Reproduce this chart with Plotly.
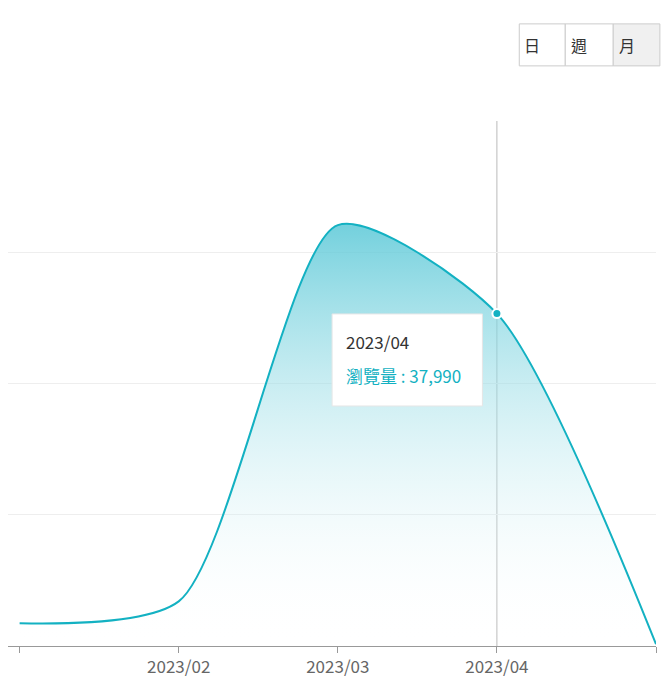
import plotly.graph_objects as go

months = ["2023/01", "2023/02", "2023/03", "2023/04", "2023/05"]
views = [2600, 5100, 48100, 37990, 200]
xi = list(range(len(months)))

teal = "#13b1c2"
fig = go.Figure()
fig.add_trace(go.Scatter(
    x=xi, y=views, mode="lines", line=dict(color=teal, width=2, shape="spline", smoothing=0.7),
    fill="tozeroy",
    fillgradient=dict(type="vertical", colorscale=[[0, "rgba(255,255,255,0)"], [1, "rgba(90,200,215,0.85)"]]),
    hoverinfo="skip", cliponaxis=True))
fig.add_trace(go.Scatter(x=[xi[3]], y=[views[3]], mode="markers",
                         marker=dict(color=teal, size=9, line=dict(color="white", width=2)), hoverinfo="skip"))

shapes = [
    dict(type="line", x0=3, x1=3, y0=0, y1=60000, xref="x", yref="y", line=dict(color="#bbbbbb", width=1), layer="below"),
    dict(type="rect", x0=1.964, x1=2.909, y0=27430, y1=37950, xref="x", yref="y",
         fillcolor="white", line=dict(color="#e6e6e6", width=1)),
]
bx = [0.789, 0.860, 0.934, 1.006]
for i in range(3):
    shapes.append(dict(type="rect", xref="paper", yref="paper", x0=bx[i], x1=bx[i+1], y0=1.105, y1=1.185,
                       fillcolor="#f0f0f0" if i == 2 else "white", line=dict(color="#cccccc", width=1)))
anns = []
for i, t in enumerate(["日", "週", "月"]):
    anns.append(dict(x=(bx[i]+bx[i+1])/2, y=1.145, xref="paper", yref="paper", text=t, showarrow=False,
                     yanchor="middle", font=dict(size=16, color="#333333", family="Noto Sans CJK TC")))
anns.append(dict(x=2.042, y=34750, xref="x", yref="y", text="2023/04", showarrow=False, xanchor="left",
                 font=dict(size=17, color="#333333", family="Noto Sans CJK TC")))
anns.append(dict(x=2.042, y=30860, xref="x", yref="y", text="瀏覽量 : 37,990", showarrow=False, xanchor="left",
                 font=dict(size=17, color=teal, family="Noto Sans CJK TC")))

fig.update_layout(
    width=670, height=676, margin=dict(l=0, r=22, t=113, b=38, autoexpand=False),
    paper_bgcolor="white", plot_bgcolor="white", showlegend=False,
    shapes=shapes, annotations=anns,
    font=dict(family="Noto Sans CJK TC", color="#666666"),
    xaxis=dict(range=[-0.073, 4.0], tickvals=xi, ticktext=months, showgrid=False, zeroline=False,
               showline=True, linecolor="#999999", ticks="outside", tickcolor="#999999", ticklen=6,
               tickfont=dict(size=17, color="#666666"), automargin=False),
    yaxis=dict(range=[0, 60000], tickvals=[0, 15000, 30000, 45000, 60000], showticklabels=False,
               gridcolor="#eeeeee", zeroline=False, automargin=False),
)
fig.write_html("out.html")
